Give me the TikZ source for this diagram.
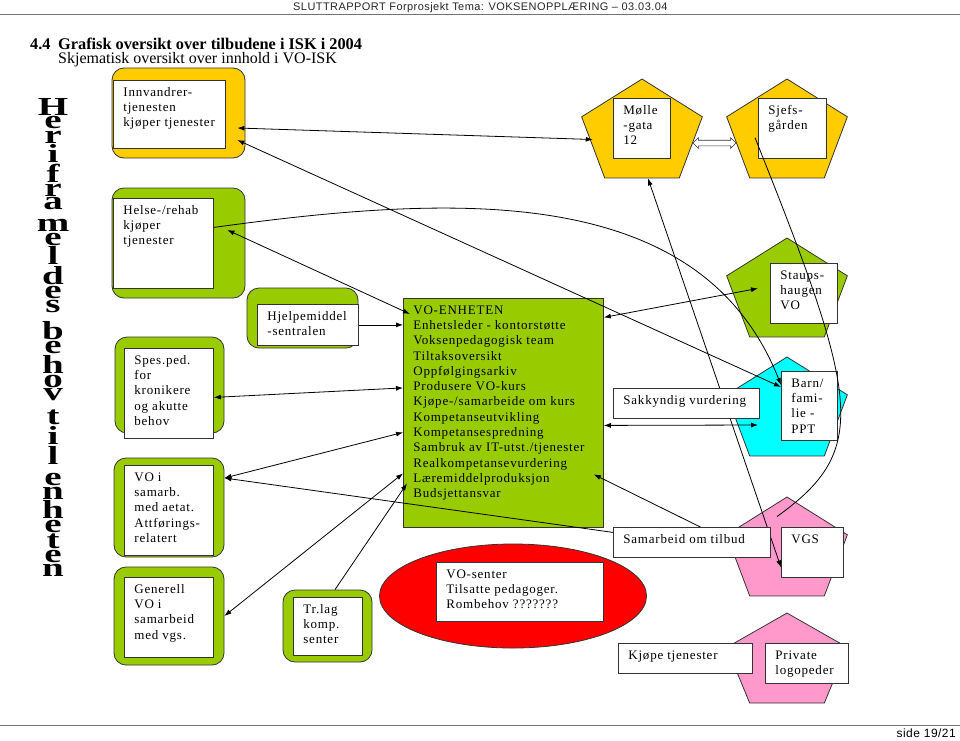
\documentclass[tikz,border=0pt]{standalone}
\usepackage{fontspec}
\usepackage{tikz}
\usetikzlibrary{arrows.meta,shapes.geometric,shapes.arrows}
\setmainfont{Liberation Serif}
\newfontfamily\boxfont[LetterSpace=6]{Liberation Serif}
\newfontfamily\headfont[LetterSpace=4]{Liberation Sans}
\definecolor{ylw}{HTML}{FFCC00}
\definecolor{grn}{HTML}{99CC00}
\definecolor{cyn}{HTML}{00FFFF}
\definecolor{pnk}{HTML}{FF99CC}
\definecolor{rd}{HTML}{FF0000}
\newcommand{\tb}[3]{\parbox[t][#2pt][t]{#1pt}{\begin{tabular}[t]{@{}l@{}}#3\end{tabular}}}
\newcommand{\stackspacing}{\lineskip=1.5pt\lineskiplimit=0pt\relax}
\pgfdeclarelayer{bg}
\pgfdeclarelayer{lines}
\pgfsetlayers{bg,lines,main}

\begin{document}
\begin{tikzpicture}[x=1pt,y=1pt,
    >={Latex[length=7pt,width=5pt]},
    outer/.style={draw=black!80, line width=0.8pt, rounded corners=12pt, inner sep=0pt},
    txt/.style={draw=black!80, fill=white, line width=0.8pt, anchor=north west,
      inner xsep=10pt, inner ysep=5pt, font=\boxfont\fontsize{13}{15.3}\selectfont},
    penta/.style={draw=black!80, line width=0.8pt, regular polygon, regular polygon sides=5,
      minimum size=109.4pt, inner sep=0pt, xscale=1.16, transform shape},
    conn/.style={line width=0.8pt}]
\useasboundingbox (0,0) rectangle (960,-740);

% header and footer
\draw[black!55, line width=1pt] (0,-14) -- (960,-14);
\node[anchor=base west, inner sep=0pt, font=\headfont\fontsize{11}{13}\selectfont, text=black!85] (head) at (293,-10)
  {SLUTTRAPPORT Forprosjekt Tema: VOKSENOPPLÆRING – 03.03.04};
\draw[black!55, line width=1pt] (0,-725) -- (960,-725);
\node[anchor=base east, inner sep=0pt, font=\headfont\fontsize{12}{14}\selectfont] (page) at (956,-737) {side 19/21};

% title
\node[anchor=base west, inner sep=0pt, font=\bfseries\fontsize{16.3}{19}\selectfont] (title) at (30,-49)
  {\makebox[28pt][l]{4.4}Grafisk oversikt over tilbudene i ISK i 2004};
\node[anchor=base west, inner sep=0pt, font=\fontsize{16}{19}\selectfont] (subtitle) at (58,-63)
  {Skjematisk oversikt over innhold i VO-ISK};

% vertical text
\node[anchor=north, inner sep=0pt, align=center, xscale=1.5, transform shape,
  font={\bfseries\fontsize{26}{0}\selectfont\stackspacing}] (behov) at (53,-98)
  {H\\e\\r\\i\\f\\r\\a\\[7.5pt]m\\e\\l\\d\\e\\s\\[7.5pt]b\\e\\h\\o\\v\\[7.5pt]t\\i\\l\\[7.5pt]e\\n\\h\\e\\t\\e\\n};

\begin{pgfonlayer}{bg}
  \node[outer, fill=ylw, minimum width=133pt, minimum height=90pt] (innvO) at (178.5,-113) {};
  \node[outer, fill=grn, minimum width=133pt, minimum height=110pt] (helseO) at (178.5,-243) {};
  \node[outer, fill=grn, minimum width=109pt, minimum height=96pt] (spesO) at (169.5,-385) {};
  \node[outer, fill=grn, minimum width=110pt, minimum height=99pt] (vosO) at (169,-507.5) {};
  \node[outer, fill=grn, minimum width=110pt, minimum height=98pt] (genO) at (169,-616) {};
  \node[outer, fill=grn, minimum width=111pt, minimum height=60pt] (hjelpO) at (302.5,-318) {};
  \node[outer, fill=grn, minimum width=89pt, minimum height=72pt] (trlagO) at (327.5,-626) {};

  \node[penta, fill=ylw] (molleP) at (642,-133.7) {};
  \node[penta, fill=ylw] (sjefP) at (787,-133.7) {};
  \node[penta, fill=grn] (staupP) at (787,-292.7) {};
  \node[penta, fill=cyn] (barnP) at (787,-411.7) {};
  \node[penta, fill=pnk] (vgsP) at (787,-551.7) {};
  \node[penta, fill=pnk, yscale=0.91] (privP) at (787,-662.8) {};

  \node[txt, fill=grn] (voenh) at (403,-298) {\tb{180}{219}{VO-ENHETEN\\
    Enhetsleder - kontorstøtte\\Voksenpedagogisk team\\Tiltaksoversikt\\Oppfølgingsarkiv\\
    Produsere VO-kurs\\Kjøpe-/samarbeide om kurs\\Kompetanseutvikling\\Kompetansespredning\\
    Sambruk av IT-utst./tjenester\\Realkompetansevurdering\\Læremiddelproduksjon\\Budsjettansvar}};
  \node[ellipse, draw=black!80, line width=0.8pt, fill=rd, minimum width=267pt, minimum height=104pt] (vosenE) at (513,-596) {};
\end{pgfonlayer}

% text boxes
\node[txt] (innvT) at (113,-80) {\tb{92}{58}{Innvandrer-\\tjenesten\\kjøper tjenester}};
\node[txt] (helseT) at (113,-198) {\tb{80}{80}{Helse-/rehab\\kjøper\\tjenester}};
\node[txt] (spesT) at (124,-348) {\tb{69}{80}{Spes.ped.\\for\\kronikere\\og akutte\\behov}};
\node[txt] (vosT) at (124,-465) {\tb{69}{80}{VO i\\samarb.\\med aetat.\\Attførings-\\relatert}};
\node[txt] (genT) at (124,-577) {\tb{69}{70}{Generell\\VO i\\samarbeid\\med vgs.}};
\node[txt] (hjelpT) at (257,-304) {\tb{81}{31}{Hjelpemiddel\\-sentralen}};
\node[txt] (trlagT) at (293,-597) {\tb{49}{48}{Tr.lag\\komp.\\senter}};
\node[txt] (vosenT) at (436,-562) {\tb{147}{49}{VO-senter\\Tilsatte pedagoger.\\Rombehov ???????}};
\node[txt] (molleT) at (613,-98) {\tb{37}{50}{Mølle\\-gata\\12}};
\node[txt] (sjefT) at (758,-98) {\tb{48}{50}{Sjefs-\\gården}};
\node[txt] (staupT) at (770,-263) {\tb{47}{50}{Staups-\\haugen\\VO}};
\node[txt] (barnT) at (781,-371) {\tb{36}{59}{Barn/\\fami-\\lie -\\PPT}};
\node[txt] (vgsT) at (781,-527) {\tb{42}{40}{VGS}};
\node[txt] (privT) at (765,-643) {\tb{63}{30}{Private\\logopeder}};
\node[txt] (sakkT) at (613,-388) {\tb{126}{20}{Sakkyndig vurdering}};
\node[txt] (samT) at (613,-527) {\tb{137}{20}{Samarbeid om tilbud}};
\node[txt] (kjopT) at (618,-643) {\tb{114}{20}{Kjøpe tjenester}};

\begin{pgfonlayer}{lines}
  \draw[conn, <->] ([xshift=-8pt,yshift=-15pt]innvO.east) -- ([yshift=8pt]molleP.side 2);
  \draw[conn, <->] ([xshift=-8pt,yshift=-27pt]innvO.east) -- ([yshift=-16pt]barnT.north west);
  \draw[conn, ->] ([yshift=16pt]helseT.east) .. controls (450,-195) and (700,-180) .. ([yshift=-14pt]barnT.north west);
  \draw[conn, <->] ([xshift=-18pt,yshift=13pt]helseO.east) -- ([xshift=7pt,yshift=-16pt]voenh.north west);
  \draw[conn, ->] (hjelpT.east) -- (voenh.west |- hjelpT.east);
  \draw[conn, <->] ([yshift=-4pt]spesT.east) -- ([yshift=25pt]voenh.west);
  \draw[conn, <->] ([yshift=29.5pt]vosO.east) -- ([yshift=-19.5pt]voenh.west);
  \draw[conn, ->] ([yshift=10pt]samT.west) -- ([yshift=29.5pt]vosO.east);
  \draw[conn, <->] (genO.east) -- ([yshift=-60.5pt]voenh.west);
  \draw[conn, ->] ([xshift=7.5pt]trlagO.north) -- ([xshift=4pt,yshift=-70.5pt]voenh.west);
  \draw[conn, ->] ([xshift=8.5pt]samT.north) -- ([xshift=-10pt,yshift=-61.5pt]voenh.east);
  \draw[conn, <->] ([yshift=-12.5pt]voenh.east) -- ([xshift=-29pt,yshift=-13.3pt]barnP.center);
  \draw[conn, <->] ([yshift=95.5pt]voenh.east) -- ([xshift=-12pt,yshift=5pt]staupT.west);
  \draw[conn, <->] ([xshift=6pt]molleP.side 3) -- ([yshift=-15pt]vgsT.west);
  % hollow block arrow between the two houses
  \node[double arrow, draw=black!80, line width=0.6pt, fill=white, inner xsep=0pt, inner ysep=2.5pt,
    minimum height=43pt, double arrow head extend=2.5pt] (gate) at (714.5,-143) {};
\end{pgfonlayer}
\draw[conn] ([xshift=-32pt,yshift=-4pt]sjefP.center) .. controls (860,-400) and (870,-450) .. ([xshift=-10pt,yshift=-20pt]vgsP.corner 1);
\end{tikzpicture}
\end{document}
